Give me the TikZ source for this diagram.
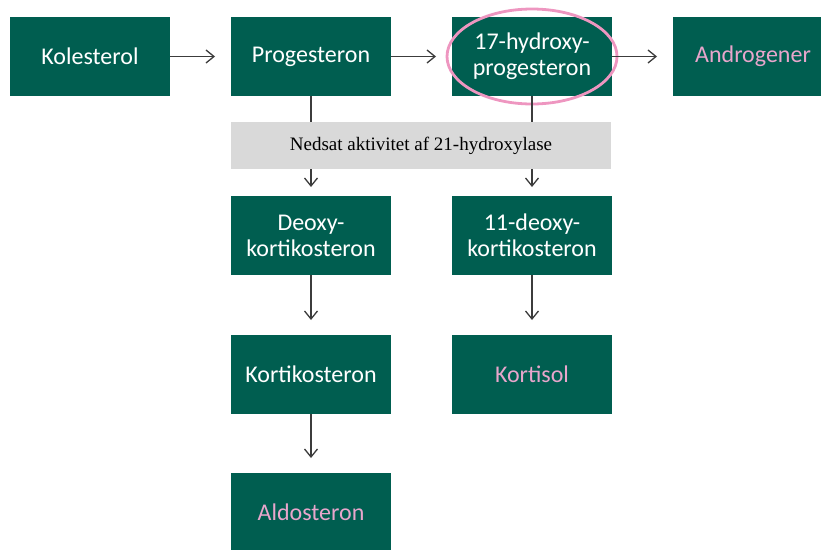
\documentclass[tikz,border=0pt]{standalone}
\usepackage{fontspec}
\setmainfont{Carlito}
\newfontfamily\notefont{Liberation Serif}
\usetikzlibrary{arrows.meta,positioning}
\definecolor{boxgreen}{RGB}{0,94,80}
\definecolor{pinktext}{RGB}{232,166,204}
\definecolor{pinkring}{RGB}{238,150,192}
\definecolor{bandgray}{RGB}{217,217,217}
\definecolor{linegray}{RGB}{60,60,60}

\begin{document}
\begin{tikzpicture}[->,>={Straight Barb[length=8pt,width=13pt]},
    x=1pt,y=1pt,line width=1.3pt,draw=linegray,node distance=61pt and 61pt,
    hormone/.style={rectangle,fill=boxgreen,text=white,minimum width=160pt,
      minimum height=79pt,inner sep=0pt,outer sep=0pt,align=center,
      font=\fontsize{24}{26}\selectfont},
    final/.style={hormone,text=pinktext},
    band/.style={rectangle,fill=bandgray,minimum width=380pt,minimum height=47pt,
      inner sep=0pt,outer sep=0pt,font=\notefont\fontsize{19}{21}\selectfont}]
  \useasboundingbox (0,0) rectangle (821,-549);
  \node[hormone] (kol) at (90,-56.5) {Kolesterol};
  \node[hormone] (prog) [right=of kol] {Progesteron};
  \node[hormone] (ohp) [right=of prog] {17-hydroxy-\\progesteron};
  \node[final] (andr) [right=of ohp] {Androgener};
  \node[band, anchor=north west] (enz) at ([yshift=-26pt]prog.south west)
    {Nedsat aktivitet af 21-hydroxylase};
  \node[hormone] (deoxy) [below=100pt of prog] {Deoxy-\\kortikosteron};
  \node[hormone] (odeoxy) [below=100pt of ohp] {11-deoxy-\\kortikosteron};
  \node[hormone] (kort) [below=60pt of deoxy] {Kortikosteron};
  \node[final] (kortisol) [below=60pt of odeoxy] {Kortisol};
  \node[final] (aldo) [below=59pt of kort] {Aldosteron};
  % ring round 17-OHP
  \draw[-,pinkring,line width=2.8pt] (ohp.center) ellipse [x radius=85, y radius=47.5];
  \path[shorten >=16pt] (kol) edge (prog)
    (prog) edge (ohp)
    (ohp) edge (andr);
  \draw[-] (prog) -- (enz.north -| prog);
  \draw[-] (ohp) -- (enz.north -| ohp);
  \draw[shorten >=9pt] (enz.south -| prog) -- (deoxy);
  \draw[shorten >=9pt] (enz.south -| ohp) -- (odeoxy);
  \path[shorten >=15pt] (deoxy) edge (kort)
    (odeoxy) edge (kortisol)
    (kort) edge (aldo);
\end{tikzpicture}
\end{document}
